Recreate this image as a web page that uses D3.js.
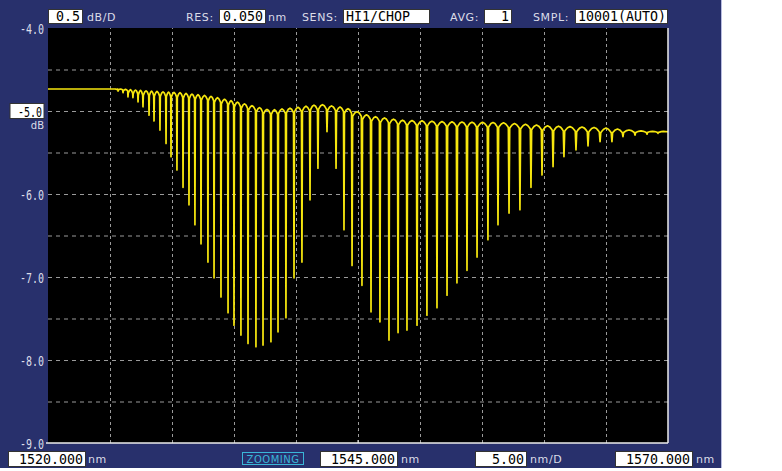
<!DOCTYPE html>
<html><head><meta charset="utf-8">
<script src="https://cdn.jsdelivr.net/npm/d3@7"></script>
<style>html,body{margin:0;padding:0;background:#fff;} svg{display:block;}</style>
</head><body>
<svg id="c" width="782" height="471"></svg>
<script>
// ---- data ----
const xDomain = [1520, 1570];
const yDomain = [-4, -9];
const xGrid = [1525, 1530, 1535, 1540, 1545, 1550, 1555, 1560, 1565];
const yGrid = [-4.5, -5, -5.5, -6, -6.5, -7, -7.5, -8, -8.5];
const yLabels = [-4, -5, -6, -7, -8, -9];

// dip (notch) wavelengths in nm and their minimum level in dB
const dipNm = [1525.65, 1526.05, 1526.45, 1526.85, 1527.26, 1527.66, 1528.15, 1528.55, 1529.03, 1529.52,
  1529.92, 1530.40, 1530.89, 1531.37, 1531.85, 1532.34, 1532.90, 1533.39, 1533.95, 1534.52,
  1535.00, 1535.56, 1536.13, 1536.77, 1537.34, 1537.98, 1538.55, 1539.19, 1539.84, 1540.48,
  1541.13, 1541.77, 1542.50, 1543.23, 1543.87, 1544.52, 1545.32, 1546.05, 1546.77, 1547.50,
  1548.23, 1548.95, 1549.76, 1550.56, 1551.37, 1552.18, 1552.98, 1553.79, 1554.60, 1555.48,
  1556.29, 1557.18, 1558.06, 1558.95, 1559.84, 1560.73, 1561.61, 1562.58, 1563.55, 1564.52,
  1565.48, 1566.37, 1567.34, 1568.31, 1569.19];
const dipDb = [-4.76, -4.78, -4.83, -4.84, -4.89, -4.95, -5.05, -5.12, -5.23, -5.39,
  -5.55, -5.71, -5.92, -6.13, -6.37, -6.60, -6.82, -7.01, -7.24, -7.43,
  -7.58, -7.70, -7.80, -7.84, -7.82, -7.78, -7.66, -7.49, -7.01, -6.82,
  -6.07, -5.69, -5.25, -5.69, -6.43, -6.86, -7.10, -7.42, -7.54, -7.76,
  -7.67, -7.64, -7.58, -7.46, -7.37, -7.22, -7.07, -6.92, -6.76, -6.55,
  -6.37, -6.23, -6.19, -5.92, -5.77, -5.67, -5.55, -5.47, -5.42, -5.37,
  -5.37, -5.31, -5.29, -5.28, -5.27];

// upper envelope of the trace (level of the arches between dips)
const envNm = [1520, 1525.81, 1528.23, 1530.65, 1533.06, 1535.48, 1537.90, 1539.92, 1541.94,
  1543.95, 1545.97, 1548.39, 1552.42, 1556.45, 1560.48, 1564.52, 1567.74, 1570];
const envDb = [-4.735, -4.735, -4.76, -4.78, -4.82, -4.90, -4.99, -4.96, -4.92,
  -4.96, -5.06, -5.11, -5.13, -5.14, -5.18, -5.20, -5.24, -5.25];

// ---- layout ----
const svg = d3.select("#c");
const L = 48, R = 668, T = 28, B = 443;
const NAVY = "#28306c", TXT = "#dcdde8";
const x = d3.scaleLinear().domain(xDomain).range([L, R]);
const y = d3.scaleLinear().domain(yDomain).range([T, B]);

svg.append("rect").attr("x", 0).attr("y", 0).attr("width", 782).attr("height", 471).attr("fill", "#fff");
svg.append("rect").attr("x", 0).attr("y", 0).attr("width", 722).attr("height", 468).attr("fill", NAVY);
svg.append("line").attr("x1", 721.5).attr("x2", 721.5).attr("y1", 0).attr("y2", 468)
  .attr("stroke", "#b8bce0").attr("stroke-width", 1);
svg.append("rect").attr("x", L).attr("y", T).attr("width", R - L).attr("height", B - T).attr("fill", "#000");

// grid
const gx = svg.append("g").attr("transform", `translate(0,${B})`)
  .call(d3.axisBottom(x).tickValues(xGrid).tickSize(-(B - T)).tickFormat(""));
gx.select(".domain").remove();
gx.selectAll(".tick line").attr("stroke", "#9a9a9a").attr("stroke-dasharray", "3,3");
const gy = svg.append("g").attr("transform", `translate(${L},0)`)
  .call(d3.axisLeft(y).tickValues(yGrid).tickSize(-(R - L)).tickFormat(""));
gy.select(".domain").remove();
gy.selectAll(".tick line").attr("stroke", "#9a9a9a").attr("stroke-dasharray", "4,4");

// trace
const env = d3.scaleLinear().domain(envNm).range(envDb);
const pts = [];
const fr = [0.06, 0.15, 0.3, 0.5, 0.7, 0.85, 0.94];
pts.push({ nm: xDomain[0], db: env(xDomain[0]) });
{
  const g0 = dipNm[1] - dipNm[0];
  pts.push({ nm: dipNm[0] - 0.5 * g0, db: env(dipNm[0] - 0.5 * g0) });
  const t = env(dipNm[0]);
  const h = Math.min(0.06, 0.6 * (t - dipDb[0]));
  [0.3, 0.15, 0.06].forEach(f => pts.push({ nm: dipNm[0] - f * g0, db: t - h * (1 - Math.sin(Math.PI * (0.5 - f))) }));
}
for (let i = 0; i < dipNm.length; i++) {
  pts.push({ nm: dipNm[i], db: dipDb[i] });
  if (i < dipNm.length - 1) {
    const a = dipNm[i], b = dipNm[i + 1];
    const t = env((a + b) / 2);
    const dm = Math.min(t - dipDb[i], t - dipDb[i + 1]);
    const h = Math.max(0, Math.min(0.07, 0.6 * dm));
    fr.forEach(f => pts.push({ nm: a + f * (b - a), db: t - h * (1 - Math.sin(Math.PI * f)) }));
  } else {
    const a = dipNm[i], g = dipNm[i] - dipNm[i - 1];
    const t = env(a);
    const h = Math.max(0, Math.min(0.04, 0.6 * (t - dipDb[i])));
    [0.06, 0.15, 0.3, 0.5].forEach(f => pts.push({ nm: a + f * g, db: t - h * (1 - Math.sin(Math.PI * f)) }));
  }
}
pts.push({ nm: xDomain[1], db: env(xDomain[1]) });

svg.append("clipPath").attr("id", "clip").append("rect")
  .attr("x", L).attr("y", T).attr("width", R - L).attr("height", B - T);
svg.append("path").datum(pts)
  .attr("clip-path", "url(#clip)")
  .attr("fill", "none").attr("stroke", "#f6e60e").attr("stroke-width", 1.7)
  .attr("stroke-linejoin", "round")
  .attr("d", d3.line().x(d => x(d.nm)).y(d => y(d.db)));

// frame lines (bottom and right)
svg.append("line").attr("x1", L - 2).attr("x2", R).attr("y1", B).attr("y2", B).attr("stroke", "#ececec").attr("stroke-width", 1.5);
svg.append("line").attr("x1", R).attr("x2", R).attr("y1", T).attr("y2", B).attr("stroke", "#ececec").attr("stroke-width", 1.5);
svg.append("line").attr("x1", x(1545)).attr("x2", x(1545)).attr("y1", B).attr("y2", B - 3).attr("stroke", "#ececec").attr("stroke-width", 1);

// y labels via axis
const ya = svg.append("g").attr("transform", `translate(44,0)`)
  .call(d3.axisLeft(y).tickValues(yLabels).tickSize(0).tickPadding(0).tickFormat(d => d.toFixed(1)));
ya.select(".domain").remove();
ya.selectAll(".tick text")
  .attr("fill", TXT).attr("font-family", "DejaVu Sans Mono").attr("font-size", 14)
  .attr("dy", "0.36em").attr("textLength", 24).attr("lengthAdjust", "spacingAndGlyphs");
ya.selectAll(".tick").filter(d => d === -5).each(function () {
  const g = d3.select(this);
  g.insert("rect", "text").attr("x", -34).attr("y", -8).attr("width", 34).attr("height", 15)
    .attr("fill", "#fff").attr("stroke", "#333").attr("stroke-width", 1);
  g.select("text").attr("fill", "#000").attr("x", -2);
});
svg.append("text").attr("x", 44).attr("y", 129).attr("text-anchor", "end")
  .attr("fill", TXT).attr("font-family", "DejaVu Sans").attr("font-size", 10).text("dB");

// boxes and labels
function box(x0, x1, y0, h, txt, anchor) {
  svg.append("rect").attr("x", x0 + 0.5).attr("y", y0 + 0.5).attr("width", x1 - x0 - 1).attr("height", h - 1)
    .attr("fill", "#fff").attr("stroke", "#333").attr("stroke-width", 1);
  const t = svg.append("text").attr("y", y0 + h - 3)
    .attr("font-family", "DejaVu Sans Mono").attr("font-size", 14).attr("fill", "#000")
    .attr("textLength", txt.length * 8.0).attr("lengthAdjust", "spacingAndGlyphs").text(txt);
  if (anchor === "end") t.attr("x", x1 - 3).attr("text-anchor", "end");
  else t.attr("x", x0 + 3);
}
function label(xp, yp, txt) {
  svg.append("text").attr("x", xp).attr("y", yp).attr("fill", TXT)
    .attr("font-family", "DejaVu Sans").attr("font-size", 11).attr("letter-spacing", 0.6).text(txt);
}
// top row
box(48, 83, 9, 15, "0.5", "end"); label(87, 21, "dB/D");
label(186, 21, "RES:"); box(219, 266, 9, 15, "0.050", "end"); label(268, 21, "nm");
label(302, 21, "SENS:"); box(343, 430, 9, 15, "HI1/CHOP", "start");
label(450, 21, "AVG:"); box(484, 512, 9, 15, "1", "end");
label(533, 21, "SMPL:"); box(575, 668, 9, 15, "10001(AUTO)", "start");
// bottom row
box(8, 86, 451, 16, "1520.000", "end"); label(88, 463, "nm");
svg.append("rect").attr("x", 242.5).attr("y", 452.5).attr("width", 61).attr("height", 12)
  .attr("fill", "none").attr("stroke", "#3ab6d8").attr("stroke-width", 1);
svg.append("text").attr("x", 273).attr("y", 462.5).attr("text-anchor", "middle").attr("fill", "#3ab6d8")
  .attr("font-family", "DejaVu Sans").attr("font-size", 10).attr("letter-spacing", 0.5).text("ZOOMING");
box(320, 398, 451, 16, "1545.000", "end"); label(401, 463, "nm");
box(475, 527, 451, 16, "5.00", "end"); label(530, 463, "nm/D");
box(615, 693, 451, 16, "1570.000", "end"); label(696, 463, "nm");
</script>
</body></html>
